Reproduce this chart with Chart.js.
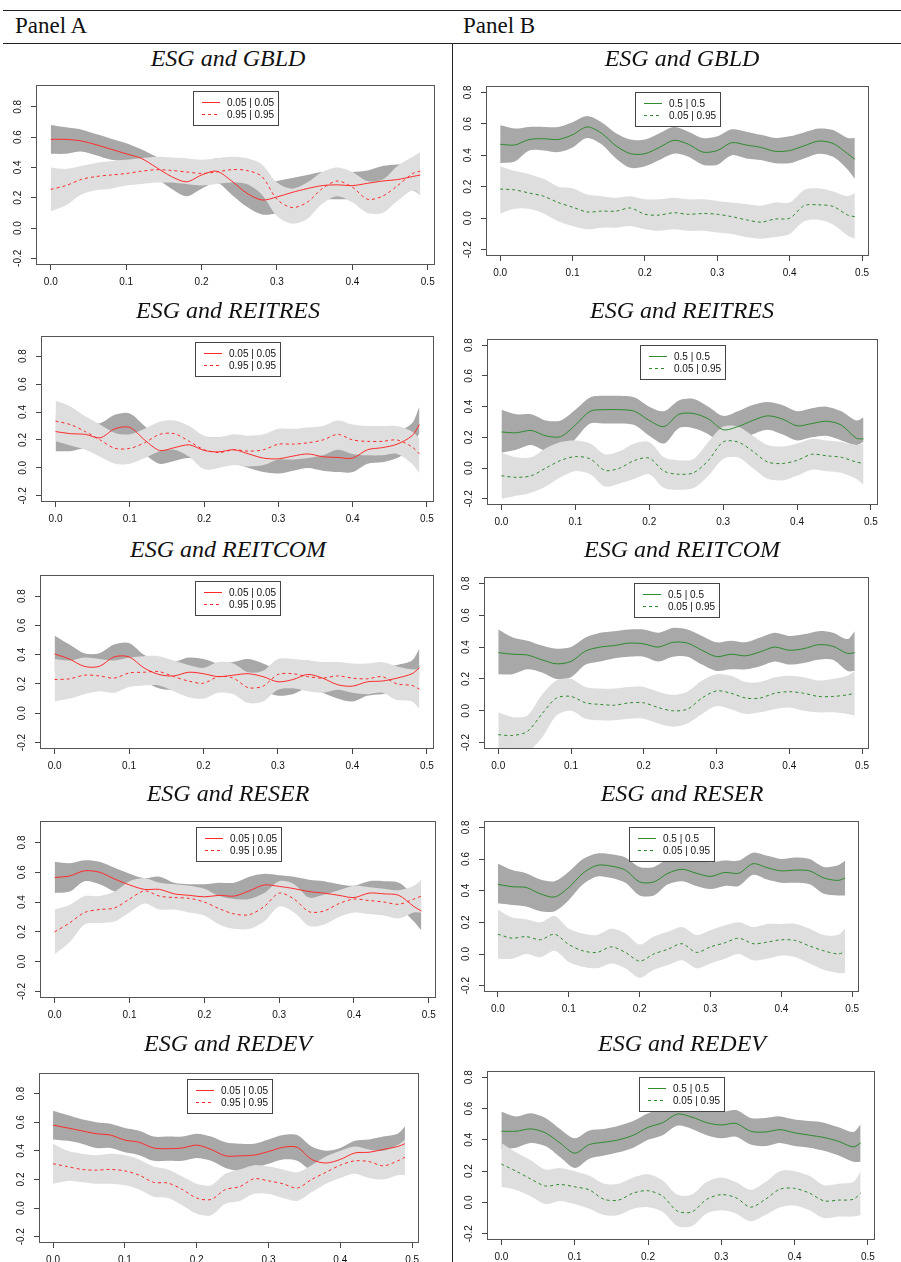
<!DOCTYPE html>
<html><head><meta charset="utf-8">
<script src="https://cdn.jsdelivr.net/npm/chart.js@4.4.1/dist/chart.umd.min.js"></script>
<style>
html,body{margin:0;padding:0;background:#fff;}
body{width:901px;height:1262px;position:relative;overflow:hidden;}
.hl{position:absolute;left:3px;width:898px;height:1px;background:#222;}
.vl{position:absolute;left:452px;top:43px;height:1219px;width:1px;background:#222;}
.hdr{position:absolute;top:14px;font-family:"Liberation Serif","Times New Roman",serif;font-size:23px;line-height:23px;color:#111;white-space:nowrap;}
.ttl{position:absolute;font-family:"Liberation Serif","Times New Roman",serif;font-style:italic;font-size:24px;line-height:24px;white-space:nowrap;transform:translateX(-50%);color:#111;}
canvas{position:absolute;}
</style></head><body>
<div class="hl" style="top:10px"></div>
<div class="hl" style="top:43px"></div>
<div class="vl"></div>
<div class="hdr" style="left:15px">Panel A</div>
<div class="hdr" style="left:463px">Panel B</div>
<script>
// ---------------- data ----------------
const xs = [0,0.02,0.04,0.06,0.08,0.10,0.12,0.14,0.16,0.18,0.20,0.22,0.24,0.26,0.28,0.30,0.32,0.34,0.36,0.38,0.40,0.42,0.44,0.46,0.48,0.49];
const xTickValues = [0,0.1,0.2,0.3,0.4,0.5];
const xTickLabels = ['0.0','0.1','0.2','0.3','0.4','0.5'];
const yTickValues = [-0.2,0,0.2,0.4,0.6,0.8];
const yTickLabels = ['-0.2','0.0','0.2','0.4','0.6','0.8'];
const legendA = ['0.05 | 0.05','0.95 | 0.95'];
const legendB = ['0.5 | 0.5','0.05 | 0.95'];

// Panel A, ESG and GBLD
const A_GBLD_solid  = [0.585,0.585,0.575,0.55,0.52,0.49,0.46,0.40,0.34,0.305,0.35,0.375,0.31,0.23,0.185,0.205,0.235,0.26,0.28,0.285,0.28,0.295,0.31,0.32,0.34,0.35];
const A_GBLD_darkHi = [0.68,0.665,0.65,0.62,0.59,0.56,0.52,0.47,0.41,0.38,0.40,0.46,0.40,0.33,0.28,0.31,0.33,0.35,0.37,0.37,0.37,0.38,0.41,0.42,0.42,0.41];
const A_GBLD_darkLo = [0.49,0.49,0.505,0.48,0.45,0.44,0.40,0.33,0.26,0.21,0.26,0.30,0.22,0.14,0.09,0.10,0.14,0.18,0.19,0.19,0.19,0.20,0.22,0.24,0.25,0.22];
const A_GBLD_dash   = [0.255,0.28,0.32,0.34,0.35,0.36,0.375,0.385,0.38,0.37,0.36,0.37,0.385,0.38,0.34,0.19,0.135,0.17,0.26,0.31,0.27,0.19,0.21,0.28,0.36,0.375];
const A_GBLD_lightHi= [0.40,0.39,0.41,0.43,0.44,0.45,0.46,0.47,0.465,0.46,0.45,0.46,0.47,0.46,0.42,0.30,0.26,0.30,0.37,0.40,0.37,0.31,0.32,0.41,0.47,0.50];
const A_GBLD_lightLo= [0.11,0.15,0.22,0.25,0.26,0.28,0.29,0.30,0.30,0.29,0.28,0.29,0.30,0.29,0.22,0.08,0.03,0.06,0.16,0.21,0.17,0.10,0.10,0.18,0.25,0.22];

// Panel B, ESG and GBLD
const B_GBLD_solid  = [0.47,0.465,0.50,0.505,0.50,0.53,0.58,0.54,0.46,0.41,0.41,0.45,0.495,0.47,0.42,0.43,0.48,0.465,0.45,0.425,0.43,0.46,0.49,0.475,0.41,0.375];
const B_GBLD_darkHi = [0.59,0.57,0.58,0.58,0.58,0.61,0.65,0.61,0.54,0.50,0.50,0.54,0.58,0.55,0.51,0.52,0.565,0.55,0.53,0.51,0.52,0.545,0.57,0.56,0.51,0.51];
const B_GBLD_darkLo = [0.35,0.36,0.43,0.43,0.42,0.45,0.51,0.47,0.38,0.32,0.33,0.37,0.41,0.39,0.34,0.34,0.40,0.38,0.37,0.35,0.35,0.38,0.41,0.39,0.31,0.25];
const B_GBLD_dash   = [0.185,0.18,0.16,0.14,0.10,0.07,0.04,0.045,0.045,0.065,0.025,0.02,0.035,0.025,0.03,0.025,0.01,-0.01,-0.025,-0.005,0.00,0.08,0.085,0.075,0.02,0.01];
const B_GBLD_lightHi= [0.33,0.30,0.28,0.25,0.20,0.19,0.15,0.14,0.13,0.14,0.12,0.12,0.13,0.12,0.12,0.11,0.10,0.09,0.08,0.10,0.10,0.18,0.19,0.17,0.14,0.16];
const B_GBLD_lightLo= [0.03,0.06,0.06,0.03,-0.02,-0.05,-0.07,-0.06,-0.06,-0.05,-0.07,-0.08,-0.07,-0.08,-0.08,-0.09,-0.10,-0.12,-0.13,-0.12,-0.10,-0.02,-0.01,-0.04,-0.11,-0.13];

// Panel A, ESG and REITRES
const A_REITRES_solid  = [0.26,0.245,0.24,0.215,0.28,0.29,0.20,0.125,0.145,0.165,0.125,0.115,0.13,0.10,0.07,0.065,0.085,0.10,0.08,0.075,0.07,0.13,0.145,0.17,0.23,0.31];
const A_REITRES_darkHi = [0.38,0.36,0.33,0.32,0.38,0.39,0.30,0.22,0.24,0.25,0.22,0.22,0.23,0.20,0.17,0.16,0.18,0.19,0.18,0.17,0.16,0.22,0.24,0.26,0.32,0.44];
const A_REITRES_darkLo = [0.12,0.12,0.14,0.12,0.19,0.20,0.10,0.03,0.05,0.07,0.04,0.02,0.03,0.00,-0.03,-0.04,-0.02,0.00,-0.02,-0.03,-0.03,0.03,0.04,0.07,0.14,0.25];
const A_REITRES_dash   = [0.335,0.31,0.26,0.20,0.14,0.14,0.18,0.24,0.245,0.19,0.13,0.11,0.13,0.12,0.13,0.17,0.17,0.18,0.20,0.24,0.20,0.19,0.19,0.20,0.15,0.10];
const A_REITRES_lightHi= [0.48,0.44,0.37,0.31,0.25,0.24,0.28,0.33,0.34,0.30,0.23,0.22,0.24,0.23,0.24,0.28,0.28,0.29,0.30,0.34,0.31,0.30,0.30,0.30,0.26,0.21];
const A_REITRES_lightLo= [0.19,0.16,0.13,0.08,0.03,0.03,0.07,0.12,0.13,0.08,-0.01,0.00,0.02,0.01,0.02,0.06,0.06,0.07,0.09,0.13,0.10,0.09,0.09,0.10,0.03,-0.04];

// Panel B, ESG and REITRES
const B_REITRES_solid  = [0.235,0.23,0.245,0.21,0.205,0.28,0.37,0.38,0.38,0.37,0.31,0.27,0.35,0.355,0.32,0.25,0.27,0.31,0.34,0.32,0.275,0.29,0.305,0.28,0.195,0.19];
const B_REITRES_darkHi = [0.38,0.35,0.35,0.31,0.31,0.38,0.46,0.47,0.47,0.46,0.40,0.37,0.44,0.45,0.40,0.34,0.37,0.41,0.43,0.41,0.37,0.39,0.40,0.37,0.31,0.33];
const B_REITRES_darkLo = [0.10,0.12,0.15,0.11,0.10,0.19,0.29,0.29,0.29,0.28,0.21,0.16,0.26,0.26,0.22,0.15,0.17,0.22,0.25,0.22,0.18,0.20,0.21,0.18,0.15,0.17];
const B_REITRES_dash   = [-0.05,-0.06,-0.05,0.0,0.05,0.075,0.06,-0.015,0.0,0.05,0.065,-0.02,-0.04,-0.03,0.05,0.17,0.17,0.11,0.04,0.03,0.05,0.09,0.08,0.07,0.04,0.03];
const B_REITRES_lightHi= [0.10,0.07,0.07,0.13,0.17,0.18,0.16,0.09,0.11,0.16,0.17,0.07,0.05,0.06,0.17,0.27,0.27,0.21,0.15,0.14,0.16,0.19,0.18,0.17,0.15,0.16];
const B_REITRES_lightLo= [-0.20,-0.18,-0.16,-0.12,-0.06,-0.02,-0.04,-0.12,-0.10,-0.07,-0.04,-0.13,-0.14,-0.13,-0.05,0.06,0.07,0.00,-0.07,-0.08,-0.05,-0.01,-0.02,-0.03,-0.07,-0.11];

// Panel A, ESG and REITCOM
const A_REITCOM_solid  = [0.405,0.37,0.32,0.32,0.385,0.385,0.31,0.265,0.255,0.28,0.27,0.25,0.26,0.27,0.25,0.215,0.23,0.265,0.24,0.195,0.185,0.215,0.22,0.24,0.27,0.31];
const A_REITCOM_darkHi = [0.53,0.47,0.41,0.41,0.47,0.48,0.40,0.36,0.35,0.38,0.37,0.34,0.35,0.37,0.34,0.30,0.32,0.36,0.33,0.29,0.28,0.30,0.31,0.33,0.36,0.44];
const A_REITCOM_darkLo = [0.29,0.26,0.22,0.22,0.29,0.29,0.22,0.17,0.16,0.19,0.18,0.16,0.17,0.18,0.15,0.12,0.13,0.17,0.14,0.10,0.08,0.12,0.13,0.15,0.18,0.25];
const A_REITCOM_dash   = [0.23,0.235,0.26,0.255,0.24,0.275,0.28,0.285,0.25,0.22,0.205,0.25,0.24,0.175,0.185,0.265,0.27,0.25,0.24,0.255,0.24,0.235,0.25,0.20,0.19,0.165];
const A_REITCOM_lightHi= [0.37,0.36,0.38,0.37,0.36,0.38,0.39,0.39,0.36,0.33,0.31,0.35,0.34,0.28,0.29,0.37,0.37,0.36,0.35,0.35,0.34,0.34,0.35,0.32,0.30,0.30];
const A_REITCOM_lightLo= [0.08,0.10,0.13,0.15,0.14,0.18,0.19,0.19,0.15,0.11,0.10,0.14,0.13,0.07,0.08,0.16,0.17,0.15,0.14,0.16,0.14,0.13,0.14,0.09,0.08,0.03];

// Panel B, ESG and REITCOM
const B_REITCOM_solid  = [0.365,0.355,0.35,0.32,0.295,0.31,0.375,0.40,0.41,0.425,0.42,0.40,0.43,0.425,0.38,0.34,0.355,0.345,0.37,0.40,0.38,0.39,0.415,0.405,0.36,0.365];
const B_REITCOM_darkHi = [0.51,0.46,0.44,0.41,0.39,0.40,0.46,0.49,0.50,0.51,0.51,0.49,0.52,0.51,0.47,0.43,0.44,0.43,0.46,0.49,0.47,0.48,0.50,0.49,0.45,0.50];
const B_REITCOM_darkLo = [0.23,0.23,0.26,0.24,0.20,0.21,0.29,0.31,0.33,0.34,0.34,0.31,0.34,0.34,0.29,0.25,0.26,0.26,0.28,0.31,0.29,0.30,0.32,0.32,0.25,0.25];
const B_REITCOM_dash   = [-0.15,-0.155,-0.13,-0.02,0.08,0.09,0.05,0.04,0.035,0.05,0.05,0.02,0.0,0.01,0.08,0.125,0.11,0.08,0.08,0.11,0.12,0.11,0.09,0.09,0.10,0.11];
const B_REITCOM_lightHi= [-0.01,-0.04,-0.03,0.10,0.19,0.20,0.15,0.14,0.14,0.15,0.15,0.12,0.10,0.12,0.19,0.23,0.22,0.18,0.18,0.21,0.22,0.21,0.19,0.20,0.22,0.25];
const B_REITCOM_lightLo= [-0.30,-0.30,-0.26,-0.17,-0.03,0.0,-0.05,-0.06,-0.06,-0.05,-0.05,-0.08,-0.10,-0.08,-0.02,0.03,0.01,-0.02,-0.01,0.01,0.02,0.0,-0.01,-0.01,-0.02,-0.03];

// Panel A, ESG and RESER
const A_RESER_solid  = [0.565,0.575,0.61,0.60,0.555,0.515,0.485,0.485,0.455,0.445,0.435,0.445,0.44,0.475,0.515,0.505,0.49,0.47,0.46,0.445,0.43,0.46,0.455,0.445,0.37,0.34];
const A_RESER_darkHi = [0.67,0.66,0.68,0.67,0.63,0.59,0.56,0.57,0.53,0.52,0.52,0.53,0.53,0.57,0.59,0.58,0.57,0.55,0.54,0.52,0.51,0.54,0.54,0.53,0.45,0.43];
const A_RESER_darkLo = [0.46,0.47,0.54,0.52,0.47,0.43,0.40,0.40,0.37,0.36,0.35,0.36,0.35,0.39,0.44,0.43,0.42,0.38,0.38,0.37,0.36,0.38,0.37,0.36,0.27,0.21];
const A_RESER_dash   = [0.20,0.26,0.33,0.35,0.36,0.42,0.475,0.44,0.43,0.425,0.40,0.355,0.32,0.315,0.37,0.46,0.42,0.335,0.34,0.39,0.42,0.41,0.40,0.385,0.42,0.44];
const A_RESER_lightHi= [0.35,0.38,0.44,0.44,0.47,0.54,0.56,0.53,0.52,0.51,0.49,0.44,0.42,0.42,0.46,0.54,0.52,0.43,0.45,0.48,0.51,0.50,0.49,0.48,0.51,0.55];
const A_RESER_lightLo= [0.05,0.13,0.25,0.26,0.27,0.33,0.39,0.35,0.35,0.33,0.31,0.25,0.22,0.22,0.27,0.37,0.33,0.24,0.25,0.30,0.33,0.32,0.31,0.29,0.33,0.33];

// Panel B, ESG and RESER
const B_RESER_solid  = [0.44,0.425,0.42,0.38,0.36,0.42,0.51,0.56,0.555,0.53,0.455,0.455,0.51,0.535,0.51,0.49,0.515,0.51,0.57,0.545,0.525,0.53,0.525,0.48,0.465,0.48];
const B_RESER_darkHi = [0.57,0.53,0.51,0.47,0.46,0.52,0.60,0.635,0.63,0.61,0.55,0.55,0.60,0.615,0.59,0.58,0.59,0.59,0.64,0.62,0.60,0.61,0.60,0.55,0.56,0.59];
const B_RESER_darkLo = [0.32,0.31,0.30,0.27,0.27,0.34,0.44,0.49,0.48,0.45,0.37,0.37,0.44,0.46,0.43,0.41,0.43,0.43,0.50,0.47,0.45,0.45,0.44,0.38,0.37,0.37];
const B_RESER_dash   = [0.125,0.10,0.11,0.09,0.125,0.06,0.02,0.01,0.045,0.01,-0.045,0.0,0.03,0.065,0.01,0.045,0.07,0.10,0.065,0.075,0.09,0.085,0.05,0.02,0.0,0.015];
const B_RESER_lightHi= [0.28,0.23,0.22,0.20,0.24,0.16,0.13,0.12,0.16,0.13,0.06,0.11,0.14,0.17,0.12,0.15,0.18,0.20,0.17,0.19,0.19,0.19,0.16,0.12,0.12,0.16];
const B_RESER_lightLo= [-0.03,-0.03,0.0,-0.02,0.02,-0.05,-0.08,-0.09,-0.06,-0.09,-0.15,-0.10,-0.07,-0.04,-0.09,-0.06,-0.03,0.0,-0.04,-0.03,-0.01,-0.02,-0.06,-0.10,-0.12,-0.12];

// Panel A, ESG and REDEV
const A_REDEV_solid  = [0.58,0.56,0.54,0.52,0.51,0.475,0.46,0.42,0.415,0.42,0.44,0.41,0.365,0.365,0.37,0.395,0.425,0.425,0.34,0.315,0.34,0.385,0.39,0.41,0.43,0.45];
const A_REDEV_darkHi = [0.68,0.65,0.62,0.60,0.59,0.56,0.54,0.50,0.50,0.50,0.52,0.50,0.46,0.45,0.45,0.48,0.51,0.51,0.43,0.40,0.42,0.47,0.48,0.50,0.52,0.57];
const A_REDEV_darkLo = [0.48,0.47,0.45,0.42,0.42,0.39,0.37,0.33,0.33,0.33,0.35,0.33,0.28,0.26,0.28,0.31,0.34,0.33,0.26,0.24,0.26,0.30,0.31,0.33,0.36,0.42];
const A_REDEV_dash   = [0.31,0.29,0.27,0.265,0.27,0.26,0.23,0.18,0.175,0.13,0.07,0.06,0.13,0.15,0.205,0.19,0.17,0.14,0.20,0.25,0.30,0.33,0.325,0.295,0.33,0.355];
const A_REDEV_lightHi= [0.45,0.40,0.38,0.37,0.38,0.37,0.34,0.29,0.27,0.22,0.17,0.16,0.24,0.27,0.30,0.29,0.27,0.25,0.30,0.36,0.40,0.43,0.41,0.40,0.44,0.48];
const A_REDEV_lightLo= [0.17,0.19,0.18,0.17,0.17,0.16,0.13,0.08,0.07,0.02,-0.04,-0.05,0.03,0.05,0.10,0.10,0.07,0.05,0.11,0.17,0.21,0.24,0.21,0.20,0.23,0.23];

// Panel B, ESG and REDEV
const B_REDEV_solid  = [0.455,0.455,0.47,0.445,0.38,0.315,0.37,0.385,0.40,0.43,0.48,0.51,0.565,0.545,0.51,0.495,0.505,0.455,0.45,0.465,0.445,0.43,0.415,0.39,0.355,0.38];
const B_REDEV_darkHi = [0.58,0.55,0.57,0.54,0.47,0.41,0.46,0.47,0.49,0.52,0.57,0.60,0.65,0.63,0.60,0.58,0.59,0.54,0.54,0.55,0.53,0.52,0.51,0.48,0.45,0.50];
const B_REDEV_darkLo = [0.34,0.35,0.38,0.36,0.29,0.22,0.28,0.30,0.32,0.35,0.40,0.43,0.49,0.47,0.43,0.41,0.42,0.37,0.36,0.38,0.36,0.35,0.33,0.30,0.26,0.26];
const B_REDEV_dash   = [0.245,0.20,0.15,0.105,0.115,0.10,0.08,0.02,0.015,0.06,0.075,0.04,-0.055,-0.06,0.02,0.05,0.03,-0.03,0.02,0.085,0.09,0.06,0.01,0.015,0.02,0.06];
const B_REDEV_lightHi= [0.38,0.32,0.27,0.21,0.22,0.20,0.17,0.12,0.12,0.16,0.18,0.14,0.05,0.05,0.13,0.16,0.13,0.08,0.13,0.20,0.20,0.17,0.11,0.12,0.13,0.20];
const B_REDEV_lightLo= [0.10,0.08,0.04,-0.01,0.01,-0.01,-0.04,-0.08,-0.08,-0.04,-0.03,-0.06,-0.15,-0.15,-0.07,-0.05,-0.07,-0.12,-0.08,-0.03,-0.02,-0.05,-0.10,-0.09,-0.09,-0.08];

// ---------------- layout / style ----------------
const RED = '#ff2b2b', GREEN = '#2e8b2e', DARK = '#a8a8a8', LIGHT = '#dedede';
const FONT = '"Liberation Sans", Arial, Helvetica, sans-serif';
const xLim = [-0.0196, 0.5096];
const yLimA = [-0.244, 0.944];
const yLimB = [-0.24, 0.84];

const panels = [
  {col:'A', title:'ESG and GBLD',    base:66,   box:[36,83,435,265],   s:[A_GBLD_solid,A_GBLD_dash,A_GBLD_lightHi,A_GBLD_lightLo,A_GBLD_darkHi,A_GBLD_darkLo]},
  {col:'B', title:'ESG and GBLD',    base:66,   box:[486,84,869,256],  s:[B_GBLD_solid,B_GBLD_dash,B_GBLD_lightHi,B_GBLD_lightLo,B_GBLD_darkHi,B_GBLD_darkLo]},
  {col:'A', title:'ESG and REITRES', base:318,  box:[41,334,434,502],  s:[A_REITRES_solid,A_REITRES_dash,A_REITRES_lightHi,A_REITRES_lightLo,A_REITRES_darkHi,A_REITRES_darkLo]},
  {col:'B', title:'ESG and REITRES', base:318,  box:[487,337,878,505], s:[B_REITRES_solid,B_REITRES_dash,B_REITRES_lightHi,B_REITRES_lightLo,B_REITRES_darkHi,B_REITRES_darkLo]},
  {col:'A', title:'ESG and REITCOM', base:557,  box:[40,573,434,749],  s:[A_REITCOM_solid,A_REITCOM_dash,A_REITCOM_lightHi,A_REITCOM_lightLo,A_REITCOM_darkHi,A_REITCOM_darkLo]},
  {col:'B', title:'ESG and REITCOM', base:557,  box:[484,575,869,749], s:[B_REITCOM_solid,B_REITCOM_dash,B_REITCOM_lightHi,B_REITCOM_lightLo,B_REITCOM_darkHi,B_REITCOM_darkLo]},
  {col:'A', title:'ESG and RESER',   base:801,  box:[40,819,436,998],  s:[A_RESER_solid,A_RESER_dash,A_RESER_lightHi,A_RESER_lightLo,A_RESER_darkHi,A_RESER_darkLo]},
  {col:'B', title:'ESG and RESER',   base:801,  box:[484,819,859,992], s:[B_RESER_solid,B_RESER_dash,B_RESER_lightHi,B_RESER_lightLo,B_RESER_darkHi,B_RESER_darkLo]},
  {col:'A', title:'ESG and REDEV',   base:1051, box:[39,1071,419,1243],s:[A_REDEV_solid,A_REDEV_dash,A_REDEV_lightHi,A_REDEV_lightLo,A_REDEV_darkHi,A_REDEV_darkLo]},
  {col:'B', title:'ESG and REDEV',   base:1051, box:[487,1069,875,1240],s:[B_REDEV_solid,B_REDEV_dash,B_REDEV_lightHi,B_REDEV_lightLo,B_REDEV_darkHi,B_REDEV_darkLo]}
];

const pts = arr => xs.map((x, i) => ({x: x, y: arr[i]}));

const boxLegendPlugin = {
  id: 'rBoxLegend',
  afterDraw(chart) {
    const ctx = chart.ctx, ca = chart.chartArea;
    ctx.save();
    ctx.strokeStyle = '#555';
    ctx.lineWidth = 1;
    ctx.setLineDash([]);
    ctx.strokeRect(ca.left + 0.5, ca.top + 0.5, ca.right - ca.left - 1, ca.bottom - ca.top - 1);
    // legend
    const ds = chart.data.datasets;
    ctx.font = '10px ' + FONT;
    const tw = Math.max(ctx.measureText(ds[0].label).width, ctx.measureText(ds[1].label).width);
    const w = Math.round(34 + tw + 4), h = 34;
    const left = Math.round((ca.left + ca.right) / 2 - w / 2);
    const top = ca.top + 6;
    ctx.fillStyle = '#fff';
    ctx.fillRect(left, top, w, h);
    ctx.strokeStyle = '#444';
    ctx.strokeRect(left + 0.5, top + 0.5, w, h);
    [0, 1].forEach(i => {
      const y = top + 11.5 + i * 12;
      ctx.beginPath();
      ctx.strokeStyle = ds[i].borderColor;
      ctx.lineWidth = 1;
      ctx.setLineDash(ds[i].borderDash || []);
      ctx.moveTo(left + 9, y);
      ctx.lineTo(left + 27, y);
      ctx.stroke();
      ctx.setLineDash([]);
      ctx.fillStyle = '#111';
      ctx.textBaseline = 'middle';
      ctx.textAlign = 'left';
      ctx.fillText(ds[i].label, left + 34, y + 0.5);
    });
    ctx.restore();
  }
};

panels.forEach(p => {
  const [L, T, R, B] = p.box;
  const padL = 40, padT = 8, padR = 12, padB = 34;
  const cl = L - padL, ct = T - padT;
  const w = R - cl + padR, h = B - ct + padB;
  const cv = document.createElement('canvas');
  cv.width = w; cv.height = h;
  cv.style.left = cl + 'px'; cv.style.top = ct + 'px';
  cv.style.width = w + 'px'; cv.style.height = h + 'px';
  document.body.appendChild(cv);

  const tt = document.createElement('div');
  tt.className = 'ttl';
  tt.textContent = p.title;
  tt.style.left = (p.col === 'A' ? 228 : 682) + 'px';
  tt.style.top = (p.base - 20) + 'px';
  document.body.appendChild(tt);

  const isA = p.col === 'A';
  const col = isA ? RED : GREEN;
  const lg = isA ? legendA : legendB;
  const yLim = isA ? yLimA : yLimB;
  const band = {borderColor: 'rgba(0,0,0,0)', borderWidth: 0, pointRadius: 0, tension: 0.3};

  new Chart(cv, {
    type: 'line',
    data: {datasets: [
      {label: lg[0], data: pts(p.s[0]), borderColor: col, borderWidth: 1, pointRadius: 0, fill: false, tension: 0.3},
      {label: lg[1], data: pts(p.s[1]), borderColor: col, borderWidth: 1, borderDash: [3, 3], pointRadius: 0, fill: false, tension: 0.3},
      Object.assign({label: 'lightHi', data: pts(p.s[2]), fill: '+1', backgroundColor: LIGHT}, band),
      Object.assign({label: 'lightLo', data: pts(p.s[3]), fill: false}, band),
      Object.assign({label: 'darkHi', data: pts(p.s[4]), fill: '+1', backgroundColor: DARK}, band),
      Object.assign({label: 'darkLo', data: pts(p.s[5]), fill: false}, band)
    ]},
    options: {
      responsive: false, animation: false, devicePixelRatio: 1, events: [],
      layout: {padding: {left: 0, top: padT, right: padR, bottom: 0}, autoPadding: false},
      plugins: {legend: {display: false}, tooltip: {enabled: false}},
      scales: {
        x: {
          type: 'linear', min: xLim[0], max: xLim[1],
          afterBuildTicks: ax => { ax.ticks = xTickValues.map(v => ({value: v})); },
          afterFit: ax => { ax.height = padB; },
          ticks: {callback: (v, i) => xTickLabels[i], autoSkip: false, maxRotation: 0, minRotation: 0,
                  font: {family: FONT, size: 10}, color: '#111', padding: 6},
          grid: {drawOnChartArea: false, drawTicks: true, tickLength: 5, tickColor: '#444', tickWidth: 1},
          border: {display: false}
        },
        y: {
          type: 'linear', min: yLim[0], max: yLim[1],
          afterBuildTicks: ax => { ax.ticks = yTickValues.map(v => ({value: v})); },
          afterFit: ax => { ax.width = padL; },
          ticks: {callback: (v, i) => yTickLabels[i], autoSkip: false, minRotation: 90, maxRotation: 90,
                  crossAlign: 'center', font: {family: FONT, size: 10}, color: '#111', padding: 4},
          grid: {drawOnChartArea: false, drawTicks: true, tickLength: 5, tickColor: '#444', tickWidth: 1},
          border: {display: false}
        }
      }
    },
    plugins: [boxLegendPlugin]
  });
});
</script>
</body></html>
